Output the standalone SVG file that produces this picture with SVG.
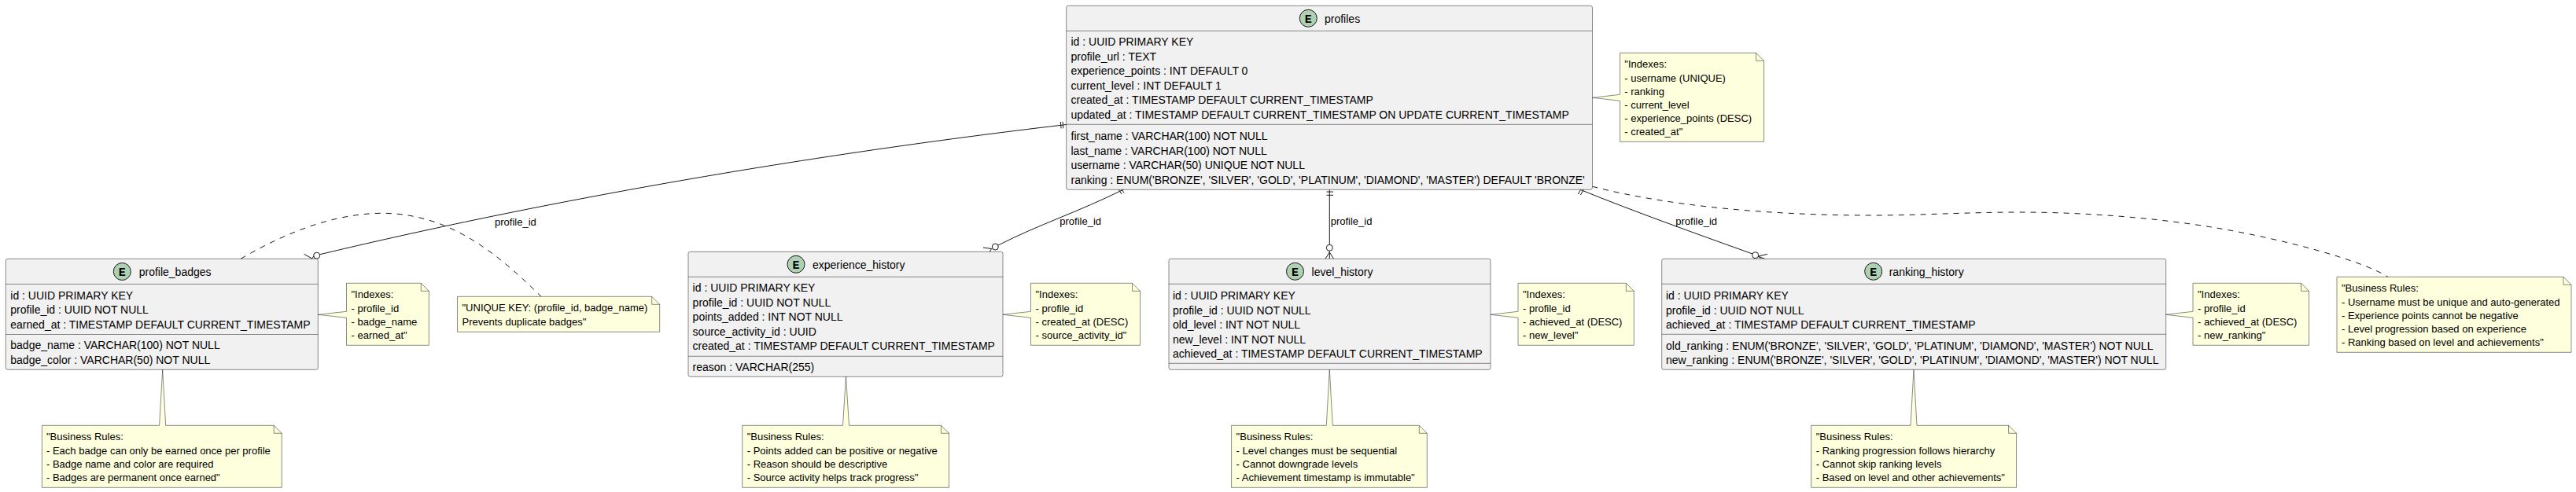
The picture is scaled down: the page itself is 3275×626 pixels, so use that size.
<svg xmlns="http://www.w3.org/2000/svg" width="3275" height="626" viewBox="0 0 3275 626">
<style>
text{font-family:"Liberation Sans",Arial,sans-serif;fill:#000}
.b{fill:#F1F1F1;stroke:#181818;stroke-width:.5}
.d{stroke:#181818;stroke-width:.5;fill:none}
.c{fill:#ADD1B2;stroke:#181818;stroke-width:1}
.e{font-family:"Liberation Mono",monospace;font-weight:bold;font-size:15px;text-anchor:middle}
.t{font-size:14px}
.r{font-size:14px}
.n{fill:#FEFFDD;stroke:#181818;stroke-width:.5}
.m{font-size:13px}
.l{font-size:13px}
.k{fill:none;stroke:#181818;stroke-width:1}
.o{fill:#fff;stroke:#181818;stroke-width:1}
.s{fill:none;stroke:#181818;stroke-width:1;stroke-dasharray:7 7}
</style>
<g id="connectors">
<path class="k" d="M406.5,323.8 C560,287 900,212 1355.7,158.5"/>
<path class="k" d="M1348.3,155 L1349.1,163.4 M1351,154.8 L1351.8,163.2"/>
<circle class="o" cx="402.7" cy="325.2" r="4"/>
<path class="k" d="M386.7,323.3 L396.7,329 M390.7,335.7 L396.7,329 M398.7,326 L396.7,329"/>
<path class="k" d="M1269,312 C1320,286 1370,270 1429,240.8"/>
<path class="k" d="M1421.5,240 L1426,247 M1424.5,238.5 L1429,245.5"/>
<circle class="o" cx="1265.3" cy="314" r="4"/>
<path class="k" d="M1250,315 L1260.5,316.5 M1255,325.7 L1260.5,316.5 M1261.5,316 L1260.5,316.5"/>
<path class="k" d="M1690.3,241.3 L1690.3,311.3"/>
<path class="k" d="M1686.5,244.1 L1695,244.1 M1686.5,248.3 L1695,248.3"/>
<circle class="o" cx="1690.3" cy="315.3" r="4"/>
<path class="k" d="M1690.3,319.3 L1690.3,329.3 M1690.3,321 L1685,329.3 M1690.3,321 L1695.6,329.3"/>
<path class="k" d="M2009,241.3 C2080,270 2150,295 2228,323"/>
<path class="k" d="M2011,238.5 L2006.5,247 M2014,240 L2009.5,248"/>
<circle class="o" cx="2231.7" cy="324.7" r="4"/>
<path class="k" d="M2236,326 L2247,323.3 M2236,326 L2242.7,335.7 M2235,326 L2245,330"/>
<path class="s" d="M306,329.3 C370,292 430,271.3 487,271.3 C570,272 630,320 688,377.3"/>
<path class="s" d="M2024.5,237.3 C2120,262 2250,274 2380,274 C2440,274 2500,270 2567,270 C2650,270 2740,277 2818,290 C2900,304 3000,330 3036,352.3"/>
<text class="l" x="629" y="286.7">profile_id</text>
<text class="l" x="1347.3" y="286">profile_id</text>
<text class="l" x="1691.7" y="286">profile_id</text>
<text class="l" x="2130.3" y="286">profile_id</text>
</g>
<g id="profiles">
<rect class="b" x="1355.7" y="7.3" width="668.8" height="234" rx="2.5"/>
<path class="d" d="M1355.7,39.3H2024.5M1355.7,158.3H2024.5"/>
<circle class="c" cx="1663.3" cy="23.3" r="11"/><text class="e" x="1663.3" y="28.5">E</text>
<text class="t" x="1684" y="28.7">profiles</text>
<text class="r" x="1361.5" y="58">id : UUID PRIMARY KEY</text>
<text class="r" x="1361.5" y="76.5">profile_url : TEXT</text>
<text class="r" x="1361.5" y="95">experience_points : INT DEFAULT 0</text>
<text class="r" x="1361.5" y="113.5">current_level : INT DEFAULT 1</text>
<text class="r" x="1361.5" y="132">created_at : TIMESTAMP DEFAULT CURRENT_TIMESTAMP</text>
<text class="r" x="1361.5" y="150.5">updated_at : TIMESTAMP DEFAULT CURRENT_TIMESTAMP ON UPDATE CURRENT_TIMESTAMP</text>
<text class="r" x="1361.5" y="178">first_name : VARCHAR(100) NOT NULL</text>
<text class="r" x="1361.5" y="196.5">last_name : VARCHAR(100) NOT NULL</text>
<text class="r" x="1361.5" y="215">username : VARCHAR(50) UNIQUE NOT NULL</text>
<text class="r" x="1361.5" y="233.5">ranking : ENUM('BRONZE', 'SILVER', 'GOLD', 'PLATINUM', 'DIAMOND', 'MASTER') DEFAULT 'BRONZE'</text>
</g>
<g id="profile_badges">
<rect class="b" x="7.3" y="329.3" width="397" height="141" rx="2.5"/>
<path class="d" d="M7.3,361.5H404.3M7.3,425.5H404.3"/>
<circle class="c" cx="155.3" cy="345.5" r="11"/><text class="e" x="155.3" y="350.7">E</text>
<text class="t" x="176.7" y="351">profile_badges</text>
<text class="r" x="13.3" y="381">id : UUID PRIMARY KEY</text>
<text class="r" x="13.3" y="399.3">profile_id : UUID NOT NULL</text>
<text class="r" x="13.3" y="417.8">earned_at : TIMESTAMP DEFAULT CURRENT_TIMESTAMP</text>
<text class="r" x="13.3" y="444.2">badge_name : VARCHAR(100) NOT NULL</text>
<text class="r" x="13.3" y="462.8">badge_color : VARCHAR(50) NOT NULL</text>
</g>
<g id="experience_history">
<rect class="b" x="875" y="320.3" width="400" height="159" rx="2.5"/>
<path class="d" d="M875,352.3H1275M875,453.3H1275"/>
<circle class="c" cx="1012" cy="336.3" r="11"/><text class="e" x="1012" y="341.5">E</text>
<text class="t" x="1033" y="342">experience_history</text>
<text class="r" x="880.6" y="371">id : UUID PRIMARY KEY</text>
<text class="r" x="880.6" y="389.5">profile_id : UUID NOT NULL</text>
<text class="r" x="880.6" y="408">points_added : INT NOT NULL</text>
<text class="r" x="880.6" y="426.5">source_activity_id : UUID</text>
<text class="r" x="880.6" y="445">created_at : TIMESTAMP DEFAULT CURRENT_TIMESTAMP</text>
<text class="r" x="880.6" y="472">reason : VARCHAR(255)</text>
</g>
<g id="level_history">
<rect class="b" x="1486" y="329.3" width="409" height="141" rx="2.5"/>
<path class="d" d="M1486,361.3H1895M1486,462.3H1895"/>
<circle class="c" cx="1646.5" cy="345.3" r="11"/><text class="e" x="1646.5" y="350.5">E</text>
<text class="t" x="1667.6" y="351">level_history</text>
<text class="r" x="1491" y="381">id : UUID PRIMARY KEY</text>
<text class="r" x="1491" y="399.5">profile_id : UUID NOT NULL</text>
<text class="r" x="1491" y="418">old_level : INT NOT NULL</text>
<text class="r" x="1491" y="436.5">new_level : INT NOT NULL</text>
<text class="r" x="1491" y="455">achieved_at : TIMESTAMP DEFAULT CURRENT_TIMESTAMP</text>
</g>
<g id="ranking_history">
<rect class="b" x="2112.7" y="329.3" width="641" height="141" rx="2.5"/>
<path class="d" d="M2112.7,361.3H2753.7M2112.7,425.3H2753.7"/>
<circle class="c" cx="2381.7" cy="345.3" r="11"/><text class="e" x="2381.7" y="350.5">E</text>
<text class="t" x="2401.7" y="351">ranking_history</text>
<text class="r" x="2118" y="381">id : UUID PRIMARY KEY</text>
<text class="r" x="2118" y="399.5">profile_id : UUID NOT NULL</text>
<text class="r" x="2118" y="418">achieved_at : TIMESTAMP DEFAULT CURRENT_TIMESTAMP</text>
<text class="r" x="2118" y="444.5">old_ranking : ENUM('BRONZE', 'SILVER', 'GOLD', 'PLATINUM', 'DIAMOND', 'MASTER') NOT NULL</text>
<text class="r" x="2118" y="463">new_ranking : ENUM('BRONZE', 'SILVER', 'GOLD', 'PLATINUM', 'DIAMOND', 'MASTER') NOT NULL</text>
</g>
<g id="note_profiles_indexes">
<path class="n" d="M2059.6,67.3H2232.6L2242.6,77.3V180.3H2059.6V128.3L2024.5,124.3L2059.6,120.3Z"/><path class="d" d="M2232.6,67.3V77.3H2242.6"/>
<text class="m" x="2065.3" y="86.3">"Indexes:</text>
<text class="m" x="2065.3" y="103.5">- username (UNIQUE)</text>
<text class="m" x="2065.3" y="120.7">- ranking</text>
<text class="m" x="2065.3" y="137.9">- current_level</text>
<text class="m" x="2065.3" y="155.1">- experience_points (DESC)</text>
<text class="m" x="2065.3" y="172.3">- created_at"</text>
</g>
<g id="note_profiles_rules">
<path class="n" d="M2971,352.3H3259L3269,362.3V448.3H2971Z"/><path class="d" d="M3259,352.3V362.3H3269"/>
<text class="m" x="2977" y="371.3">"Business Rules:</text>
<text class="m" x="2977" y="388.5">- Username must be unique and auto-generated</text>
<text class="m" x="2977" y="405.7">- Experience points cannot be negative</text>
<text class="m" x="2977" y="422.9">- Level progression based on experience</text>
<text class="m" x="2977" y="440.1">- Ranking based on level and achievements"</text>
</g>
<g id="note_badges_indexes">
<path class="n" d="M440.5,360.3H535.3L545.3,370.3V439.3H440.5V404.3L404.3,400.3L440.5,396.3Z"/><path class="d" d="M535.3,360.3V370.3H545.3"/>
<text class="m" x="446.5" y="379.3">"Indexes:</text>
<text class="m" x="446.5" y="396.5">- profile_id</text>
<text class="m" x="446.5" y="413.7">- badge_name</text>
<text class="m" x="446.5" y="430.9">- earned_at"</text>
</g>
<g id="note_badges_unique">
<path class="n" d="M581.5,377.3H828.7L838.7,387.3V422.3H581.5Z"/><path class="d" d="M828.7,377.3V387.3H838.7"/>
<text class="m" x="587.5" y="396.3">"UNIQUE KEY: (profile_id, badge_name)</text>
<text class="m" x="587.5" y="413.5">Prevents duplicate badges"</text>
</g>
<g id="note_badges_rules">
<path class="n" d="M53.4,541.3H202.6L206.7,470.3L210.7,541.3H348.2L358.2,551.3V620.3H53.4Z"/><path class="d" d="M348.2,541.3V551.3H358.2"/>
<text class="m" x="59" y="560.3">"Business Rules:</text>
<text class="m" x="59" y="577.5">- Each badge can only be earned once per profile</text>
<text class="m" x="59" y="594.7">- Badge name and color are required</text>
<text class="m" x="59" y="611.9">- Badges are permanent once earned"</text>
</g>
<g id="note_experience_indexes">
<path class="n" d="M1310.5,360.3H1439.5L1449.5,370.3V439.3H1310.5V404.3L1275,400.3L1310.5,396.3Z"/><path class="d" d="M1439.5,360.3V370.3H1449.5"/>
<text class="m" x="1316.5" y="379.3">"Indexes:</text>
<text class="m" x="1316.5" y="396.5">- profile_id</text>
<text class="m" x="1316.5" y="413.7">- created_at (DESC)</text>
<text class="m" x="1316.5" y="430.9">- source_activity_id"</text>
</g>
<g id="note_experience_rules">
<path class="n" d="M943.7,541.3H1071.5L1075.5,479.3L1079.5,541.3H1196.5L1206.5,551.3V620.3H943.7Z"/><path class="d" d="M1196.5,541.3V551.3H1206.5"/>
<text class="m" x="949.7" y="560.3">"Business Rules:</text>
<text class="m" x="949.7" y="577.5">- Points added can be positive or negative</text>
<text class="m" x="949.7" y="594.7">- Reason should be descriptive</text>
<text class="m" x="949.7" y="611.9">- Source activity helps track progress"</text>
</g>
<g id="note_level_indexes">
<path class="n" d="M1930,360.3H2067.3L2077.3,370.3V439.3H1930V404.3L1895,400.3L1930,396.3Z"/><path class="d" d="M2067.3,360.3V370.3H2077.3"/>
<text class="m" x="1936" y="379.3">"Indexes:</text>
<text class="m" x="1936" y="396.5">- profile_id</text>
<text class="m" x="1936" y="413.7">- achieved_at (DESC)</text>
<text class="m" x="1936" y="430.9">- new_level"</text>
</g>
<g id="note_level_rules">
<path class="n" d="M1565.6,541.3H1686.3L1690.3,470.3L1694.3,541.3H1804.3L1814.3,551.3V620.3H1565.6Z"/><path class="d" d="M1804.3,541.3V551.3H1814.3"/>
<text class="m" x="1571.6" y="560.3">"Business Rules:</text>
<text class="m" x="1571.6" y="577.5">- Level changes must be sequential</text>
<text class="m" x="1571.6" y="594.7">- Cannot downgrade levels</text>
<text class="m" x="1571.6" y="611.9">- Achievement timestamp is immutable"</text>
</g>
<g id="note_ranking_indexes">
<path class="n" d="M2788,360.3H2925.5L2935.5,370.3V439.3H2788V404.3L2753.7,400.3L2788,396.3Z"/><path class="d" d="M2925.5,360.3V370.3H2935.5"/>
<text class="m" x="2794" y="379.3">"Indexes:</text>
<text class="m" x="2794" y="396.5">- profile_id</text>
<text class="m" x="2794" y="413.7">- achieved_at (DESC)</text>
<text class="m" x="2794" y="430.9">- new_ranking"</text>
</g>
<g id="note_ranking_rules">
<path class="n" d="M2302.7,541.3H2429L2433,470.3L2437,541.3H2553.6L2563.6,551.3V620.3H2302.7Z"/><path class="d" d="M2553.6,541.3V551.3H2563.6"/>
<text class="m" x="2308.7" y="560.3">"Business Rules:</text>
<text class="m" x="2308.7" y="577.5">- Ranking progression follows hierarchy</text>
<text class="m" x="2308.7" y="594.7">- Cannot skip ranking levels</text>
<text class="m" x="2308.7" y="611.9">- Based on level and other achievements"</text>
</g>
</svg>
